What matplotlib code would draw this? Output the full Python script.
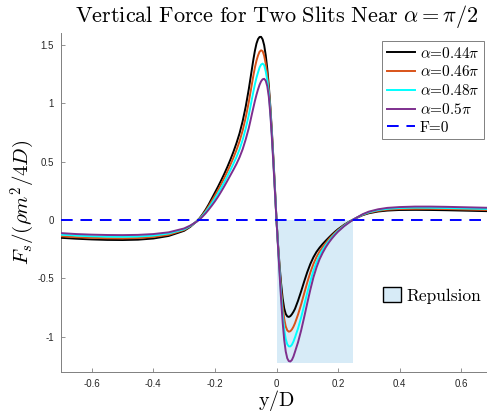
import matplotlib
matplotlib.use("Agg")
import matplotlib.pyplot as plt
from matplotlib.patches import Patch, Rectangle

plt.rcParams['mathtext.fontset'] = 'cm'

# ---------------- data ----------------
y_over_D = [-0.70, -0.65, -0.60, -0.55, -0.50, -0.45, -0.40, -0.35, -0.30,
            -0.28, -0.26, -0.25, -0.24,
            -0.23, -0.22, -0.21, -0.20, -0.19, -0.18, -0.17, -0.16, -0.15,
            -0.14, -0.13, -0.12, -0.11, -0.10, -0.09,
            -0.085, -0.08, -0.075, -0.07, -0.065, -0.06, -0.055, -0.05, -0.045,
            -0.04, -0.035, -0.03, -0.025, -0.02, -0.015, -0.01, -0.005, 0.0,
            0.005, 0.01, 0.015, 0.02, 0.025, 0.03, 0.035, 0.04, 0.045, 0.05,
            0.055, 0.06,
            0.07, 0.08, 0.09, 0.10, 0.11, 0.12, 0.13, 0.14, 0.15, 0.16, 0.17,
            0.18, 0.19, 0.20,
            0.22, 0.24, 0.25, 0.26, 0.28, 0.30, 0.33, 0.36, 0.40, 0.45, 0.50,
            0.55, 0.60, 0.65, 0.70]

force_044 = [-0.152, -0.160, -0.166, -0.170, -0.171, -0.168, -0.158, -0.136, -0.092,
             -0.058, -0.012, 0.015, 0.050,
             0.090, 0.135, 0.185, 0.235, 0.285, 0.338, 0.393, 0.452, 0.515,
             0.583, 0.658, 0.742, 0.845, 0.970, 1.120,
             1.205, 1.290, 1.375, 1.450, 1.510, 1.548, 1.566, 1.567, 1.545,
             1.495, 1.410, 1.295, 1.150, 0.970, 0.760, 0.525, 0.270, 0.0,
             -0.210, -0.390, -0.545, -0.670, -0.755, -0.803, -0.824, -0.829, -0.822, -0.806,
             -0.785, -0.760,
             -0.690, -0.610, -0.525, -0.445, -0.375, -0.318, -0.272, -0.236, -0.205, -0.177, -0.150,
             -0.124, -0.100, -0.078,
             -0.040, -0.008, 0.005, 0.018, 0.042, 0.058, 0.073, 0.081, 0.086, 0.087, 0.086,
             0.084, 0.081, 0.078, 0.075]

force_046 = [-0.139, -0.147, -0.152, -0.156, -0.157, -0.154, -0.145, -0.126, -0.085,
             -0.054, -0.013, 0.011, 0.043,
             0.079, 0.120, 0.165, 0.210, 0.256, 0.306, 0.358, 0.413, 0.471,
             0.532, 0.599, 0.674, 0.765, 0.877, 1.009,
             1.085, 1.162, 1.238, 1.307, 1.364, 1.408, 1.440, 1.452, 1.445,
             1.405, 1.337, 1.245, 1.118, 0.948, 0.742, 0.508, 0.259, 0.0,
             -0.218, -0.415, -0.592, -0.738, -0.845, -0.910, -0.944, -0.955, -0.951, -0.936,
             -0.913, -0.883,
             -0.808, -0.722, -0.627, -0.533, -0.448, -0.375, -0.316, -0.269, -0.230, -0.196, -0.164,
             -0.135, -0.109, -0.085,
             -0.044, -0.010, 0.005, 0.019, 0.045, 0.063, 0.079, 0.089, 0.094, 0.096, 0.096,
             0.094, 0.091, 0.088, 0.085]

force_048 = [-0.125, -0.133, -0.139, -0.142, -0.143, -0.141, -0.133, -0.115, -0.079,
             -0.051, -0.014, 0.008, 0.037,
             0.069, 0.105, 0.144, 0.185, 0.228, 0.274, 0.322, 0.373, 0.426,
             0.481, 0.539, 0.605, 0.685, 0.783, 0.898,
             0.965, 1.033, 1.100, 1.163, 1.218, 1.263, 1.305, 1.330, 1.338,
             1.325, 1.272, 1.195, 1.087, 0.927, 0.723, 0.492, 0.249, 0.0,
             -0.227, -0.440, -0.638, -0.807, -0.935, -1.018, -1.063, -1.081, -1.081, -1.067,
             -1.040, -1.005,
             -0.927, -0.833, -0.728, -0.622, -0.522, -0.433, -0.361, -0.302, -0.255, -0.214, -0.179,
             -0.147, -0.118, -0.092,
             -0.048, -0.011, 0.004, 0.019, 0.047, 0.067, 0.086, 0.096, 0.103, 0.106, 0.105,
             0.103, 0.100, 0.097, 0.094]

force_050 = [-0.112, -0.120, -0.125, -0.128, -0.129, -0.127, -0.120, -0.105, -0.072,
             -0.047, -0.015, 0.004, 0.030,
             0.058, 0.090, 0.124, 0.160, 0.199, 0.242, 0.287, 0.334, 0.382,
             0.430, 0.480, 0.537, 0.605, 0.690, 0.787,
             0.845, 0.905, 0.963, 1.020, 1.072, 1.118, 1.157, 1.187, 1.204,
             1.208, 1.192, 1.145, 1.055, 0.905, 0.705, 0.475, 0.238, 0.0,
             -0.235, -0.465, -0.685, -0.875, -1.025, -1.125, -1.183, -1.207, -1.210, -1.197,
             -1.168, -1.128,
             -1.045, -0.945, -0.830, -0.710, -0.595, -0.490, -0.405, -0.335, -0.280, -0.233, -0.193,
             -0.158, -0.127, -0.099,
             -0.052, -0.013, 0.004, 0.020, 0.050, 0.072, 0.092, 0.104, 0.111, 0.115, 0.115,
             0.113, 0.110, 0.107, 0.104]

series_labels = [r'$\alpha$=0.44$\pi$', r'$\alpha$=0.46$\pi$',
                 r'$\alpha$=0.48$\pi$', r'$\alpha$=0.5$\pi$']
series_colors = ['#000000', '#D95319', '#00FFFF', '#7E2F8E']

repulsion_x = [0.0, 0.25]
repulsion_ymin = -1.22

x_limits = [-0.7, 0.7]
y_limits = [-1.3, 1.6]
x_ticks = [-0.6, -0.4, -0.2, 0, 0.2, 0.4, 0.6]
x_tick_labels = ['-0.6', '-0.4', '-0.2', '0', '0.2', '0.4', '0.6']
y_ticks = [-1, -0.5, 0, 0.5, 1, 1.5]
y_tick_labels = ['-1', '-0.5', '0', '0.5', '1', '1.5']

# ---------------- figure ----------------
W, H = 487, 412
fig = plt.figure(figsize=(W / 100, H / 100), dpi=100)
ax_left, ax_right, ax_top, ax_bottom = 61, 492, 33, 372
ax = fig.add_axes([ax_left / W, (H - ax_bottom) / H,
                   (ax_right - ax_left) / W, (ax_bottom - ax_top) / H])

shade = '#D7EBF7'
ax.add_patch(Rectangle((repulsion_x[0], repulsion_ymin),
                       repulsion_x[1] - repulsion_x[0], -repulsion_ymin,
                       facecolor=shade, edgecolor='none', zorder=1))

all_series = [force_044, force_046, force_048, force_050]
line_handles = []
for vals, lab, col in zip(all_series, series_labels, series_colors):
    h, = ax.plot(y_over_D, vals, color=col, lw=1.4, label=lab, zorder=3,
                 solid_joinstyle='round')
    line_handles.append(h)

h0, = ax.plot(x_limits, [0, 0], color='#0000FF', lw=1.4, ls=(0, (6, 4)),
              label='F=0', zorder=4)
line_handles.append(h0)

ax.set_xlim(x_limits)
ax.set_ylim(y_limits)
ax.set_xticks(x_ticks)
ax.set_xticklabels(x_tick_labels)
ax.set_yticks(y_ticks)
ax.set_yticklabels(y_tick_labels)

for s in ['top', 'right']:
    ax.spines[s].set_visible(False)
for s in ['left', 'bottom']:
    ax.spines[s].set_color('#808080')
    ax.spines[s].set_linewidth(0.7)
ax.tick_params(direction='in', length=2.8, width=0.6, color='#808080',
               labelsize=7, labelcolor='#262626', pad=5)
for lbl in ax.get_xticklabels() + ax.get_yticklabels():
    lbl.set_family('Liberation Sans')

ax.set_title(r'$\mathrm{Vertical\ Force\ for\ Two\ Slits\ Near}\ \alpha = \pi/2$',
             fontsize=16, pad=8)
ax.set_xlabel(r'$\mathrm{y/D}$', fontsize=14.5, labelpad=-1)
ax.set_ylabel(r'$F_s/(\rho m^2/4D)$', fontsize=15, labelpad=0)

leg1 = ax.legend(handles=line_handles, loc='upper right',
                 bbox_to_anchor=((484 - ax_left) / (ax_right - ax_left),
                                 1 - (41 - ax_top) / (ax_bottom - ax_top)),
                 borderaxespad=0, fancybox=False, framealpha=1,
                 edgecolor='#808080', prop={'family': 'cmr10', 'size': 11},
                 handlelength=1.85, handletextpad=0.3, borderpad=0.3,
                 labelspacing=0.25)
leg1.get_frame().set_linewidth(0.7)
ax.add_artist(leg1)

rep_handle = Patch(facecolor=shade, edgecolor='black', linewidth=1.0,
                   label='Repulsion')
ax.legend(handles=[rep_handle], loc='center left',
          bbox_to_anchor=((383 - ax_left) / (ax_right - ax_left),
                          1 - (295.5 - ax_top) / (ax_bottom - ax_top)),
          borderaxespad=0, borderpad=0, frameon=False,
          prop={'family': 'cmr10', 'size': 12.5},
          handlelength=1.05, handleheight=0.9, handletextpad=0.3)

fig.savefig('out.png', dpi=100)
